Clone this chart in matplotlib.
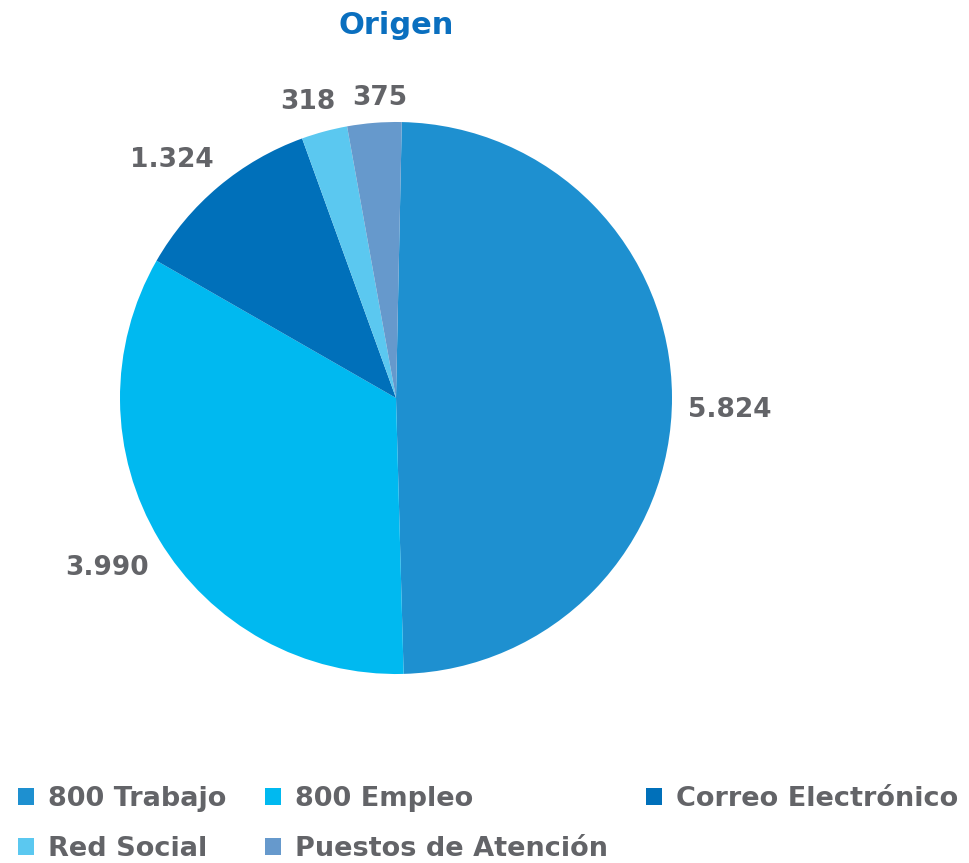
import numpy as np
import matplotlib.pyplot as plt
from matplotlib.patches import Patch

# Data
categories = ["800 Trabajo", "800 Empleo", "Correo Electrónico", "Red Social", "Puestos de Atención"]
values = [5824, 3990, 1324, 318, 375]
value_labels = ["5.824", "3.990", "1.324", "318", "375"]
colors = ["#1E90D0", "#00B9F0", "#0070BA", "#5BC8F0", "#6699CC"]

# label placement (radius factor, angle nudge in degrees)
label_dist = [1.21, 1.215, 1.185, 1.12, 1.09]
label_nudge = [-2.3, -0.4, 3.3, 1.5, -1.5]

text_gray = "#636468"
fonts = ["DejaVu Sans"]
plt.rcParams["font.family"] = fonts

fig = plt.figure(figsize=(9.69, 8.63), dpi=100)

# Pie axes: centre (396, 398) px, radius 276 px
cx, cy, r = 396, 398, 276
ax = fig.add_axes([(cx - r) / 969, (863 - cy - r) / 863, 2 * r / 969, 2 * r / 863])
wedges, _ = ax.pie(values, colors=colors, startangle=88.8, counterclock=False,
                   radius=1.0, wedgeprops=dict(linewidth=0))
ax.set_xlim(-1, 1)
ax.set_ylim(-1, 1)
ax.set_aspect("equal")
ax.axis("off")

for w, lab, d, nd in zip(wedges, value_labels, label_dist, label_nudge):
    ang = np.deg2rad((w.theta1 + w.theta2) / 2 + nd)
    ax.text(d * np.cos(ang), d * np.sin(ang), lab, ha="center", va="center",
            fontsize=19, fontweight="bold", color=text_gray, clip_on=False)

fig.text(cx / 969, 1 - 25 / 863, "Origen", ha="center", va="center",
         fontsize=22, fontweight="bold", color="#0A6FBF")

# Legend, filled row by row
handles = [Patch(facecolor=c, edgecolor="none") for c in colors]
order = [0, 3, 1, 4, 2]
fig.legend([handles[i] for i in order], [categories[i] for i in order],
           ncol=3, loc="upper left", bbox_to_anchor=(18 / 969, 1 - 786 / 863),
           frameon=False, handlelength=0.59, handleheight=0.59, handletextpad=0.52,
           columnspacing=1.42, labelspacing=0.88, borderaxespad=0.0, borderpad=0.0,
           prop=dict(family=fonts, weight="bold", size=19.5),
           labelcolor=text_gray)

fig.savefig("out.png", dpi=100, facecolor="white")
